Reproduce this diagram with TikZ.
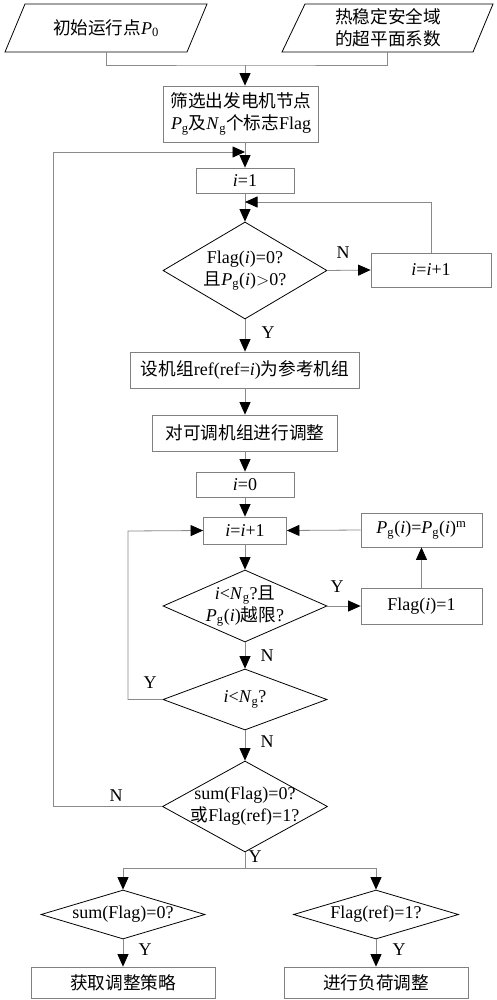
\documentclass[tikz,border=0pt]{standalone}
\usepackage{fontspec}
\setmainfont{Liberation Serif}
\newfontfamily\cjk[Scale=0.98]{Noto Sans CJK SC}
\usetikzlibrary{arrows.meta,shapes.geometric}
\newcommand\zh[1]{{\cjk #1}}
\newcommand\myPg{\textit{P}\textsubscript{g}}
\newcommand\myNg{\textit{N}\textsubscript{g}}
\newcommand\myi{\textit{i}}
\definecolor{linegray}{HTML}{8A8A8A}
\definecolor{boxgray}{HTML}{808080}
\begin{document}
\begin{tikzpicture}[x=1pt,y=-1pt,
  font=\fontsize{18}{22}\selectfont,
  box/.style={draw=boxgray, line width=0.8pt, inner sep=0pt, align=center},
  dia/.style={draw=black, line width=0.8pt, diamond, inner sep=0pt},
  txt/.style={align=center, inner sep=0pt},
  para/.style={draw=black, line width=0.8pt},
  conn/.style={draw=linegray, line width=0.8pt},
  arr/.style={conn, -{Triangle[length=12.5pt,width=11pt,color=black]}},
  lab/.style={inner sep=0pt}]
\fill[white] (0,0) rectangle (496,1000);
\useasboundingbox (0,0) rectangle (496,1000);

% inputs
\draw[para] (25,4) -- (207,4) -- (187,52) -- (5,52) -- cycle;
\node[txt] (in1) at (106,28) {\zh{初始运行点}\textit{P}\textsubscript{0}};
\draw[para] (305,4) -- (493,4) -- (473,52) -- (282,52) -- cycle;
\node[txt] (in2) at (388,28) {\zh{热稳定安全域}\\\zh{的超平面系数}};
\coordinate (in1b) at (106,52);
\coordinate (in2b) at (387,52);
\coordinate (j) at (245,65);

% main nodes
\node[box, minimum width=155pt, minimum height=56pt] (n1) at (241,114)
  {\zh{筛选出发电机节点}\\\myPg\zh{及}\myNg\zh{个标志}Flag};
\node[box, minimum width=98pt, minimum height=25pt] (n2) at (245,180.5) {\myi=1};
\node[dia, minimum width=164pt, minimum height=97pt] (d1) at (245,270.5) {};
\node[txt] (t1) at (d1.center) {Flag(\myi)=0?\\\zh{且}\myPg(\myi)$>$0?};
\node[box, minimum width=120pt, minimum height=34pt] (n3) at (431,270) {\myi=\myi+1};
\node[box, minimum width=229pt, minimum height=36pt] (n4) at (245,370)
  {\zh{设机组}ref(ref=\myi)\zh{为参考机组}};
\node[box, minimum width=185pt, minimum height=36pt] (n5) at (245,433)
  {\zh{对可调机组进行调整}};
\node[box, minimum width=98pt, minimum height=25pt] (n6) at (245,484.5) {\myi=0};
\node[box, minimum width=83pt, minimum height=27pt] (n7) at (245,530.5) {\myi=\myi+1};
\node[box, minimum width=121pt, minimum height=34pt] (n8) at (421.5,530)
  {\myPg(\myi)=\myPg(\myi)\textsuperscript{m}};
\node[dia, minimum width=164pt, minimum height=72pt] (d2) at (245,606) {};
\node[txt] (t2) at (d2.center) {\myi<\myNg?\zh{且}\\\myPg(\myi)\zh{越限}?};
\node[box, minimum width=121pt, minimum height=36pt] (n9) at (421.5,606) {Flag(\myi)=1};
\node[dia, minimum width=164pt, minimum height=61pt] (d3) at (245,699.5) {};
\node[txt] (t3) at (d3.center) {\myi<\myNg?};
\node[dia, minimum width=165pt, minimum height=91pt] (d4) at (245,806.5) {};
\node[txt] (t4) at (d4.center) {sum(Flag)=0?\\\zh{或}Flag(ref)=1?};
\node[dia, minimum width=164pt, minimum height=49pt] (d5) at (123,914.5) {};
\node[txt] (t5) at (d5.center) {sum(Flag)=0?};
\node[dia, minimum width=165pt, minimum height=49pt] (d6) at (376,914.5) {};
\node[txt] (t6) at (d6.center) {Flag(ref)=1?};
\node[box, minimum width=184pt, minimum height=31pt] (n10) at (123,982.5) {\zh{获取调整策略}};
\node[box, minimum width=184pt, minimum height=31pt] (n11) at (376,982.5) {\zh{进行负荷调整}};

% helper coordinates
\coordinate (m1) at (245,152);
\coordinate (lp1) at (53,152);
\coordinate (m2) at (245,202);
\coordinate (lp2) at (128,531);
\coordinate (sp) at (245,868);

% connectors
\draw[conn] (in1b) |- (j) -| (in2b);
\draw[arr] (j) -- (j |- n1.north);
\draw[arr] (n1.south -| n2.north) -- (n2.north);
\draw[arr] (n2.south) -- (d1.north);
\draw[arr] (d1.east) -- (n3.west);
\draw[arr] (n3.north) |- (m2);
\draw[arr] (d1.south) -- (n4.north);
\draw[arr] (n4.south) -- (n5.north);
\draw[arr] (n5.south) -- (n6.north);
\draw[arr] (n6.south) -- (n7.north);
\draw[arr] (n7.south) -- (d2.north);
\draw[arr] (d2.east) -- (n9.west);
\draw[arr] (n9.north) -- (n8.south);
\draw[arr] (n8.west) -- (n7.east);
\draw[arr] (d2.south) -- (d3.north);
\draw[arr] (d3.west) -| (lp2) -- (n7.west);
\draw[arr] (d3.south) -- (d4.north);
\draw[arr] (d4.west) -| (lp1) -- (m1);
\draw[conn] (d4.south) -- (sp);
\draw[arr] (sp) -| (d5.north);
\draw[arr] (sp) -| (d6.north);
\draw[arr] (d5.south) -- (n10.north);
\draw[arr] (d6.south) -- (n11.north);

% labels
\node[lab] (l1) at (343,253) {N};
\node[lab] (l2) at (268,333) {Y};
\node[lab] (l3) at (337,587) {Y};
\node[lab] (l4) at (267,656) {N};
\node[lab] (l5) at (150,683) {Y};
\node[lab] (l6) at (267,742) {N};
\node[lab] (l7) at (116,796) {N};
\node[lab] (l8) at (255,857) {Y};
\node[lab] (l9) at (145,950) {Y};
\node[lab] (l10) at (399,950) {Y};
\end{tikzpicture}
\end{document}
